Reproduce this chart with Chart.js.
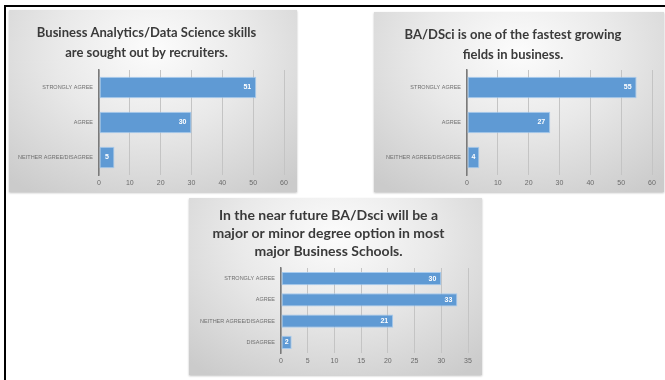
<!DOCTYPE html>
<html><head><meta charset="utf-8">
<script src="https://cdn.jsdelivr.net/npm/chart.js@4.4.0/dist/chart.umd.min.js"></script>
<style>
html,body{margin:0;padding:0;background:#fff;width:665px;height:380px;overflow:hidden;position:relative}
.frame{position:absolute;left:4px;top:5px;width:665px;height:380px;border-top:2px solid #000;border-left:2px solid #000}
.panel{position:absolute;background:radial-gradient(ellipse 75% 95% at 50% 22%,#fcfcfc 0%,#e9e9e9 45%,#cbcbcb 100%);box-shadow:0 1px 2px rgba(0,0,0,0.25)}
canvas{display:block}
</style></head>
<body>
<div class="frame"></div>
<div class="panel" id="p1" style="left:9px;top:10px;width:288px;height:182px"><canvas id="c1"></canvas></div>
<div class="panel" id="p2" style="left:374px;top:12px;width:290px;height:180px"><canvas id="c2"></canvas></div>
<div class="panel" id="p3" style="left:189px;top:198px;width:293px;height:177px"><canvas id="c3"></canvas></div>
<script>
// ---- data ----
const categories1 = ['STRONGLY AGREE', 'AGREE', 'NEITHER AGREE/DISAGREE'];
const values1 = [51, 30, 5];
const title1 = ['Business Analytics/Data Science skills', 'are sought out by recruiters.'];

const categories2 = ['STRONGLY AGREE', 'AGREE', 'NEITHER AGREE/DISAGREE'];
const values2 = [55, 27, 4];
const title2 = ['BA/DSci is one of the fastest growing', 'fields in business.'];

const categories3 = ['STRONGLY AGREE', 'AGREE', 'NEITHER AGREE/DISAGREE', 'DISAGREE'];
const values3 = [30, 33, 21, 2];
const title3 = ['In the near future BA/Dsci will be a', 'major or minor degree option in most', 'major Business Schools.'];

const axisMax1 = 60, axisStep1 = 10;
const axisMax2 = 60, axisStep2 = 10;
const axisMax3 = 35, axisStep3 = 5;

const barLabels = {
  id: 'barLabels',
  afterDatasetsDraw(chart) {
    const ctx = chart.ctx;
    ctx.save();
    ctx.fillStyle = '#ffffff';
    ctx.font = 'bold 7px "Liberation Sans", sans-serif';
    ctx.textBaseline = 'middle';
    chart.data.datasets.forEach((ds, i) => {
      chart.getDatasetMeta(i).data.forEach((bar, j) => {
        const v = ds.data[j];
        const w = bar.x - bar.base;
        if (w < 20) { ctx.textAlign = 'center'; ctx.fillText(String(v), (bar.x + bar.base) / 2, bar.y); }
        else { ctx.textAlign = 'right'; ctx.fillText(String(v), bar.x - 5, bar.y); }
      });
    });
    ctx.restore();
  }
};

function makeChart(id, w, h, cats, vals, title, max, step, g) {
  const cv = document.getElementById(id);
  cv.width = w; cv.height = h;
  return new Chart(cv, {
    type: 'bar',
    data: { labels: cats, datasets: [{ data: vals, backgroundColor: '#5f9ad4', borderColor: 'rgba(160,200,238,0.9)', borderWidth: 1, borderSkipped: false, categoryPercentage: 0.85, barPercentage: 0.72 }] },
    options: {
      indexAxis: 'y', responsive: false, animation: false,
      layout: { padding: { left: 0, right: g.right, top: 0, bottom: 0 } },
      plugins: {
        legend: { display: false }, tooltip: { enabled: false },
        title: { display: true, text: title, color: '#3a3a3a', font: { family: 'Lato, "Open Sans", sans-serif', size: g.ts, weight: 'bold', lineHeight: g.lh + 'px' }, padding: { top: g.tTop, bottom: g.tBottom } }
      },
      scales: {
        x: {
          min: 0, max: max,
          ticks: { stepSize: step, color: '#6a6a6a', font: { family: '"Liberation Sans", sans-serif', size: 7 }, padding: 4 },
          grid: { color: '#c4c4c4', lineWidth: 1, drawTicks: false },
          border: { display: false },
          afterFit(s) { s.height = g.xH; }
        },
        y: {
          ticks: { color: '#6f6f6f', font: { family: '"Liberation Sans", sans-serif', size: 5.5 }, padding: 6 },
          grid: { display: false, drawTicks: false },
          border: { display: true, color: '#7a7a7a', width: 1.5 },
          afterFit(s) { s.width = g.yW; }
        }
      }
    },
    plugins: [barLabels]
  });
}

makeChart('c1', 288, 182, categories1, values1, title1, axisMax1, axisStep1, { right: 13, yW: 90, xH: 17, ts: 13, lh: 20, tTop: 13, tBottom: 7 });
makeChart('c2', 290, 180, categories2, values2, title2, axisMax2, axisStep2, { right: 12, yW: 93, xH: 17, ts: 13, lh: 20, tTop: 13, tBottom: 5 });
makeChart('c3', 293, 177, categories3, values3, title3, axisMax3, axisStep3, { right: 14, yW: 92, xH: 22, ts: 14, lh: 18, tTop: 8, tBottom: 8 });
</script>
</body></html>
